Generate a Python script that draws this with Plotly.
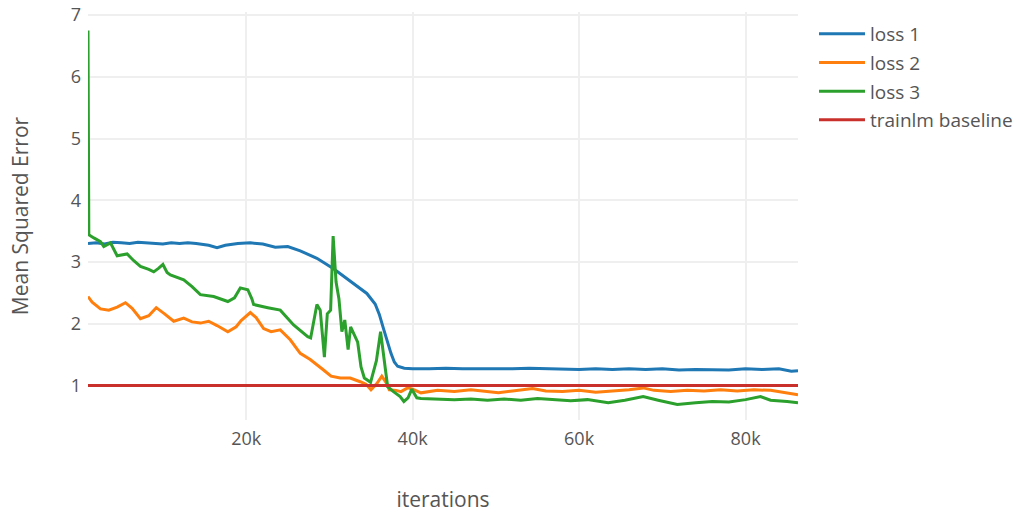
import plotly.graph_objects as go

# Training curves: mean squared error per iteration
loss1_x = [1000, 2000, 3000, 4000, 5000, 6000, 7000, 8000, 9000, 10000, 11000, 12000,
           13000, 14000, 15500, 16500, 17500, 19000, 20500, 22000, 23500, 25000, 26500,
           28500, 30500, 32500, 34500, 35500, 36000, 36500, 37000, 37400, 37800, 38200,
           39000, 40000, 42000, 44000, 46000, 48000, 50000, 52000, 54000, 56000, 58000,
           60000, 62000, 64000, 66000, 68000, 70000, 72000, 74000, 76000, 78000, 80000,
           82000, 84000, 85500, 86300]
loss1_y = [3.30, 3.31, 3.29, 3.32, 3.31, 3.30, 3.32, 3.31, 3.30, 3.29, 3.31, 3.30,
           3.31, 3.30, 3.27, 3.23, 3.27, 3.30, 3.31, 3.29, 3.24, 3.25, 3.18,
           3.06, 2.89, 2.69, 2.49, 2.32, 2.15, 1.92, 1.68, 1.52, 1.38, 1.31,
           1.28, 1.27, 1.27, 1.28, 1.27, 1.27, 1.26, 1.27, 1.28, 1.27, 1.26,
           1.26, 1.27, 1.26, 1.27, 1.26, 1.27, 1.25, 1.26, 1.26, 1.25, 1.27,
           1.26, 1.27, 1.23, 1.24]

loss2_x = [1000, 1500, 2500, 3500, 4500, 5500, 6300, 7300, 8300, 9200, 10200, 11300,
           12500, 13500, 14500, 15500, 16500, 17800, 18800, 19400, 20500, 21200, 22100,
           23000, 24100, 25300, 26500, 27700, 29300, 30200, 31300, 32500, 33700, 34400,
           35000, 35700, 36300, 36800, 37200, 38000, 38600, 39400, 40000, 41000, 43000,
           45000, 47000, 49000, 50300, 52000, 54400, 56000, 58000, 60000, 62000, 64000,
           66000, 67700, 69000, 71000, 73000, 75000, 77000, 79000, 81000, 83000, 84500,
           86300]
loss2_y = [2.44, 2.35, 2.24, 2.22, 2.27, 2.34, 2.25, 2.08, 2.13, 2.26, 2.16, 2.04,
           2.09, 2.03, 2.01, 2.04, 1.97, 1.87, 1.95, 2.05, 2.18, 2.10, 1.92,
           1.87, 1.90, 1.74, 1.52, 1.42, 1.25, 1.15, 1.12, 1.12, 1.06, 1.02,
           0.93, 1.03, 1.15, 1.05, 0.93, 0.92, 0.90, 0.96, 0.94, 0.88, 0.92,
           0.90, 0.93, 0.90, 0.88, 0.91, 0.95, 0.91, 0.90, 0.92, 0.89, 0.91,
           0.93, 0.96, 0.92, 0.90, 0.92, 0.91, 0.93, 0.91, 0.93, 0.92, 0.89,
           0.85]

loss3_x = [1000, 1100, 1700, 2500, 2900, 3700, 4500, 5700, 6500, 7300, 8300, 8900,
           9500, 10000, 10500, 10900, 12500, 13500, 14500, 16100, 17800, 18600, 19300,
           20200, 20700, 20900, 22600, 24100, 25700, 27400, 27750, 28100, 28500, 28900,
           29400, 29750, 30150, 30450, 30800, 31150, 31500, 31850, 32250, 32550, 33000,
           33400, 33800, 34200, 34950, 35650, 36150, 36600, 37000, 37700, 38500, 38950,
           39450, 39900, 40500, 41000, 43000, 45000, 47000, 49000, 51000, 53000, 55000,
           57000, 59000, 61000, 63500, 65500, 67700, 69500, 71800, 74000, 76000, 78000,
           80000, 81800, 83000, 85000, 86300]
loss3_y = [6.75, 3.44, 3.39, 3.33, 3.25, 3.31, 3.10, 3.13, 3.02, 2.93, 2.88, 2.84,
           2.90, 2.96, 2.83, 2.79, 2.71, 2.60, 2.47, 2.44, 2.36, 2.42, 2.58,
           2.55, 2.40, 2.31, 2.26, 2.22, 1.98, 1.79, 1.77, 2.05, 2.31, 2.22,
           1.46, 2.16, 2.22, 3.42, 2.68, 2.40, 1.87, 2.06, 1.58, 1.95, 1.82,
           1.70, 1.30, 1.12, 1.05, 1.40, 1.87, 1.44, 0.98, 0.90, 0.82, 0.74,
           0.80, 0.94, 0.80, 0.79, 0.78, 0.77, 0.78, 0.76, 0.78, 0.76, 0.79,
           0.77, 0.75, 0.77, 0.72, 0.76, 0.82, 0.76, 0.69, 0.72, 0.74, 0.73,
           0.77, 0.82, 0.76, 0.74, 0.72]

baseline_x = [1000, 86300]
baseline_y = [1.0, 1.0]

series = [
    ("loss 1", loss1_x, loss1_y, "#1f77b4"),
    ("loss 2", loss2_x, loss2_y, "#ff7f0e"),
    ("loss 3", loss3_x, loss3_y, "#2ca02c"),
    ("trainlm baseline", baseline_x, baseline_y, "#c9302c"),
]

fig = go.Figure()
for name, xs, ys, color in series:
    fig.add_trace(go.Scatter(x=xs, y=ys, mode="lines", name=name, legendgroup=name,
                             line=dict(color=color, width=3)))

grid = "#efefef"
fig.update_layout(
    width=1018, height=513,
    margin=dict(l=88, r=220, t=12, b=93, autoexpand=False),
    paper_bgcolor="white", plot_bgcolor="white",
    font=dict(family="Open Sans, verdana, arial, sans-serif", color="#555", size=18),
    showlegend=True,
    legend=dict(xref="container", yref="container", x=0.7996, y=0.971,
                xanchor="left", yanchor="top",
                font=dict(size=19, color="#555"), itemwidth=46, tracegroupgap=1),
    xaxis=dict(range=[1000, 86300], showgrid=True, gridcolor=grid, gridwidth=1.5,
               zeroline=False, showline=False, tickvals=[20000, 40000, 60000, 80000],
               ticktext=["20k", "40k", "60k", "80k"], tickfont=dict(size=18),
               ticklabelstandoff=6,
               title=dict(text="iterations", font=dict(size=21), standoff=47)),
    yaxis=dict(range=[0.44, 7.05], showgrid=True, gridcolor=grid, gridwidth=1.5,
               zeroline=False, showline=False, dtick=1, tickfont=dict(size=18),
               ticklabelstandoff=6,
               title=dict(text="Mean Squared Error", font=dict(size=21), standoff=36)),
)

fig.write_html("out.html")
